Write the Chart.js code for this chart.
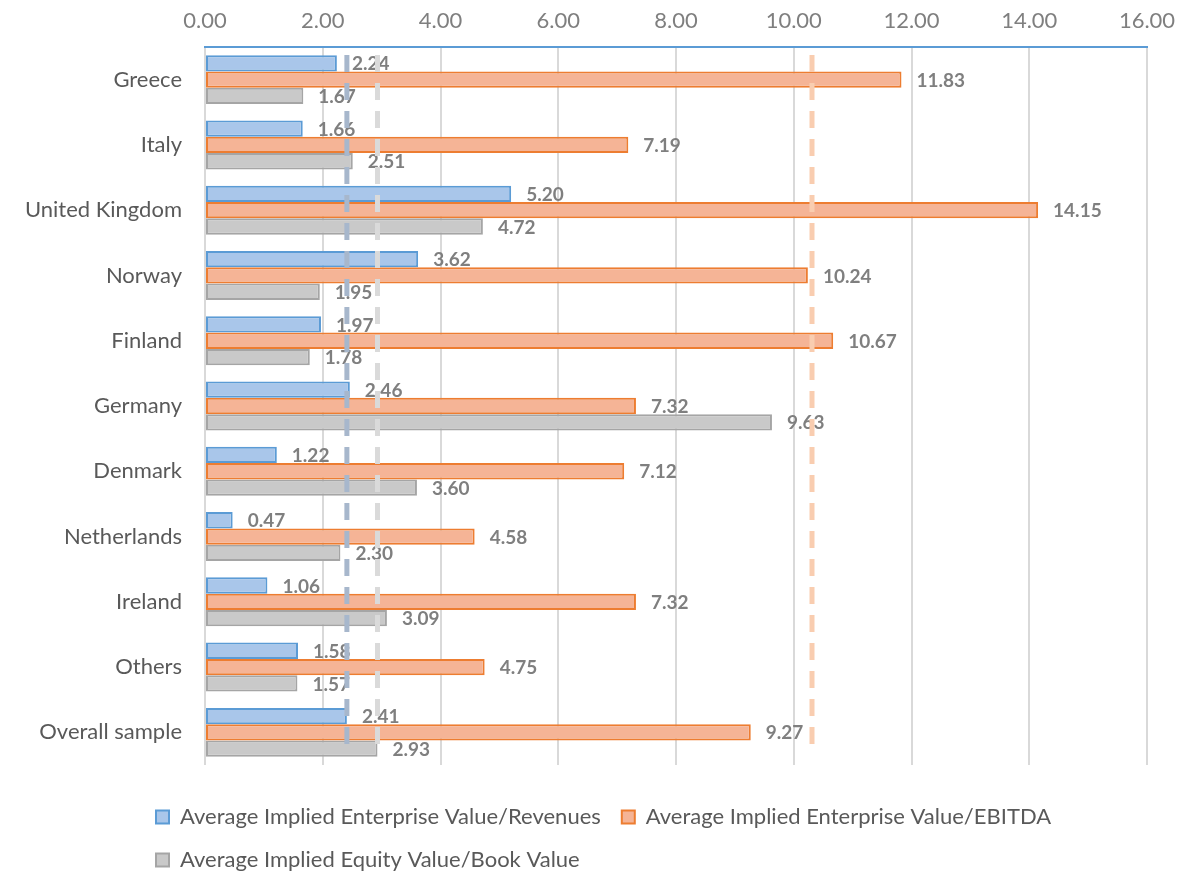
<!DOCTYPE html>
<html>
<head>
<meta charset="utf-8">
<title>Average implied multiples by country</title>
<script src="https://cdn.jsdelivr.net/npm/chart.js@4.4.1/dist/chart.umd.min.js"></script>
<style>
  body { margin: 0; background: #fff; }
  canvas { display: block; }
</style>
</head>
<body>
<canvas id="bar-chart" width="1203" height="875"></canvas>
<script>
const countries = ['Greece', 'Italy', 'United Kingdom', 'Norway', 'Finland', 'Germany', 'Denmark', 'Netherlands', 'Ireland', 'Others', 'Overall sample'];
const evRevenues = [2.24, 1.66, 5.20, 3.62, 1.97, 2.46, 1.22, 0.47, 1.06, 1.58, 2.41];
const evEbitda = [11.83, 7.19, 14.15, 10.24, 10.67, 7.32, 7.12, 4.58, 7.32, 4.75, 9.27];
const equityBook = [1.67, 2.51, 4.72, 1.95, 1.78, 9.63, 3.60, 2.30, 3.09, 1.57, 2.93];
const seriesNames = ['Average Implied Enterprise Value/Revenues', 'Average Implied Enterprise Value/EBITDA', 'Average Implied Equity Value/Book Value'];
const xTicks = [0, 2, 4, 6, 8, 10, 12, 14, 16];
// dashed average lines, one per series
const averageLines = [2.41, 10.31, 2.93];

const FONT = 'Lato, Carlito, Calibri, sans-serif';
const fills = ['#a9c6ea', '#f5b496', '#c9c9c9'];
const borders = ['#5b9bd5', '#ed7d31', '#a5a5a5'];
const lineColors = ['#a7b7cc', '#f9cdb0', '#dadada'];

// value written right of each bar
const valueLabels = {
  id: 'valueLabels',
  afterDatasetsDraw(chart) {
    const ctx = chart.ctx;
    ctx.save();
    ctx.font = 'bold 19px ' + FONT;
    ctx.fillStyle = '#7f7f7f';
    ctx.textAlign = 'left';
    ctx.textBaseline = 'middle';
    chart.data.datasets.forEach((ds, i) => {
      chart.getDatasetMeta(i).data.forEach((bar, j) => {
        ctx.fillText(ds.data[j].toFixed(2), bar.x + 15, bar.y + 1);
      });
    });
    ctx.restore();
  }
};

// vertical dashed lines over everything
const avgLines = {
  id: 'avgLines',
  afterDraw(chart) {
    const { ctx, chartArea } = chart;
    const x = chart.scales.x;
    ctx.save();
    ctx.lineWidth = 5;
    ctx.setLineDash([17, 11]);
    averageLines.forEach((v, i) => {
      const px = x.getPixelForValue(v);
      ctx.strokeStyle = lineColors[i];
      ctx.beginPath();
      ctx.moveTo(px, chartArea.top + 8);
      ctx.lineTo(px, chartArea.bottom - 10);
      ctx.stroke();
    });
    ctx.restore();
  }
};

// move the legend block to where the original has it (box moves with its clip)
const legendPlace = {
  id: 'legendPlace',
  afterLayout(chart) {
    const lg = chart.legend;
    const dy = 785 - lg.top;
    lg.top += dy;
    lg.bottom += dy;
    lg.left = 135;
  }
};

const chartData = {
  labels: countries,
  datasets: [evRevenues, evEbitda, equityBook].map((data, i) => ({
    label: seriesNames[i],
    data: data,
    backgroundColor: fills[i],
    borderColor: borders[i],
    borderWidth: 2,
    borderSkipped: false,
    categoryPercentage: 0.75,
    barPercentage: 1
  }))
};

const config = {
  type: 'bar',
  data: chartData,
  options: {
    indexAxis: 'y',
    responsive: false,
    animation: false,
    layout: { padding: { left: 0, right: 56, top: 0, bottom: 14 } },
    scales: {
      x: {
        position: 'top',
        min: 0,
        max: 16,
        afterBuildTicks: s => { s.ticks = xTicks.map(v => ({ value: v })); },
        afterFit: s => { s.height = 47; },
        ticks: {
          padding: 13,
          color: '#7f7f7f',
          font: { family: FONT, size: 22 },
          callback: v => Number(v).toFixed(2)
        },
        grid: { color: '#d9d9d9', lineWidth: 2, drawTicks: false },
        border: { color: '#5b9bd5', width: 2 }
      },
      y: {
        afterFit: s => { s.width = 205; },
        grid: { display: false, drawTicks: false },
        border: { display: false },
        ticks: {
          padding: 23,
          color: '#595959',
          font: { family: FONT, size: 22 }
        }
      }
    },
    plugins: {
      tooltip: { enabled: false },
      legend: {
        position: 'bottom',
        align: 'start',
        labels: {
          boxWidth: 13,
          boxHeight: 13,
          padding: 21,
          color: '#595959',
          font: { family: FONT, size: 22 }
        }
      }
    }
  },
  plugins: [valueLabels, avgLines, legendPlace]
};

new Chart(document.querySelector('#bar-chart'), config);
</script>
</body>
</html>
